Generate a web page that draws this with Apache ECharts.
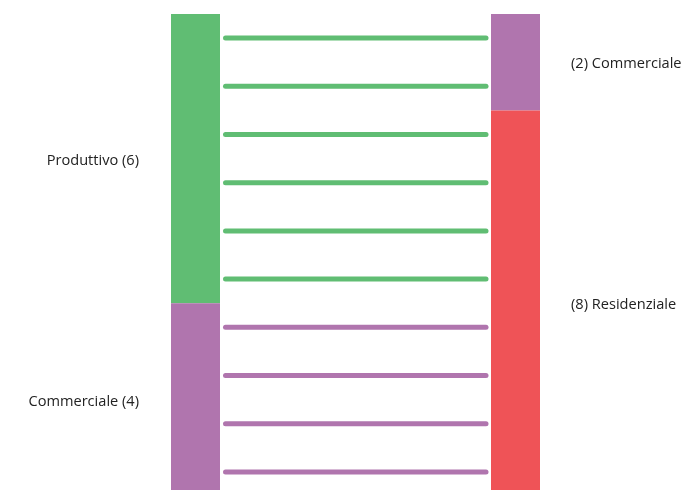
<!DOCTYPE html>
<html><head><meta charset="utf-8">
<script src="https://cdn.jsdelivr.net/npm/echarts@6/dist/echarts.min.js"></script>
<style>html,body{margin:0;padding:0;background:#fff}#c{width:693px;height:490px}</style>
</head><body><div id="c"></div>
<script>
// Dimension 0 (left) and dimension 1 (right)
const leftCategories = ['Produttivo', 'Commerciale'];
const leftCounts = [6, 4];
const rightCategories = ['Commerciale', 'Residenziale'];
const rightCounts = [2, 8];
// One record per line: [left category, right category]
const records = [
  ['Produttivo', 'Commerciale'],
  ['Produttivo', 'Commerciale'],
  ['Produttivo', 'Residenziale'],
  ['Produttivo', 'Residenziale'],
  ['Produttivo', 'Residenziale'],
  ['Produttivo', 'Residenziale'],
  ['Commerciale', 'Residenziale'],
  ['Commerciale', 'Residenziale'],
  ['Commerciale', 'Residenziale'],
  ['Commerciale', 'Residenziale']
];
const colors = { Produttivo: '#60bd73', Commerciale: '#b075ae', Residenziale: '#ef5357' };
const total = leftCounts.reduce((a, b) => a + b, 0);

const BAR_W = 49, GAP = 3, FONT = '"Open Sans", sans-serif';

function blocks(cats, counts, dim) {
  let acc = 0;
  return cats.map((c, i) => { const s = acc; acc += counts[i]; return [dim, s, acc, c, counts[i]]; });
}
const blockData = blocks(leftCategories, leftCounts, 0).concat(blocks(rightCategories, rightCounts, 1));
const lineData = records.map((r, i) => [i + 0.5, r[0], r[1]]);

const chart = echarts.init(document.getElementById('c'), null, { renderer: 'canvas' });
chart.setOption({
  animation: false,
  // the plot area runs past the bottom edge of the picture (its last ~6px are cut off)
  grid: { left: 195.5, right: 153 + 24.5, top: 14, bottom: 0, containLabel: false },
  xAxis: { type: 'value', min: 0, max: 1, show: false },
  yAxis: { type: 'value', min: 0, max: 9.875, inverse: true, show: false },
  series: [
    {
      type: 'custom',
      clip: false,
      data: lineData,
      renderItem: function (params, api) {
        const y = api.value(0);
        const p0 = api.coord([0, y]);
        const p1 = api.coord([1, y]);
        return {
          type: 'line',
          shape: { x1: p0[0] + BAR_W / 2 + GAP + 2.5, y1: p0[1], x2: p1[0] - BAR_W / 2 - GAP - 2, y2: p1[1] },
          style: { stroke: colors[lineData[params.dataIndex][1]], lineWidth: 5, lineCap: 'round' }
        };
      }
    },
    {
      type: 'custom',
      clip: false,
      data: blockData,
      renderItem: function (params, api) {
        const d = blockData[params.dataIndex];
        const a = api.coord([d[0], d[1]]);
        const b = api.coord([d[0], d[2]]);
        const left = d[0] === 0;
        const label = left ? d[3] + ' (' + d[4] + ')' : '(' + d[4] + ') ' + d[3];
        return {
          type: 'group',
          children: [
            { type: 'rect', shape: { x: a[0] - BAR_W / 2, y: a[1], width: BAR_W, height: b[1] - a[1] },
              style: { fill: colors[d[3]] } },
            { type: 'text',
              style: { text: label, x: left ? a[0] - BAR_W / 2 - 32 : a[0] + BAR_W / 2 + 31,
                y: (a[1] + b[1]) / 2 + 2, align: left ? 'right' : 'left', verticalAlign: 'middle',
                font: '14.6px ' + FONT, fill: '#222' } }
          ]
        };
      }
    }
  ]
});
</script></body></html>
